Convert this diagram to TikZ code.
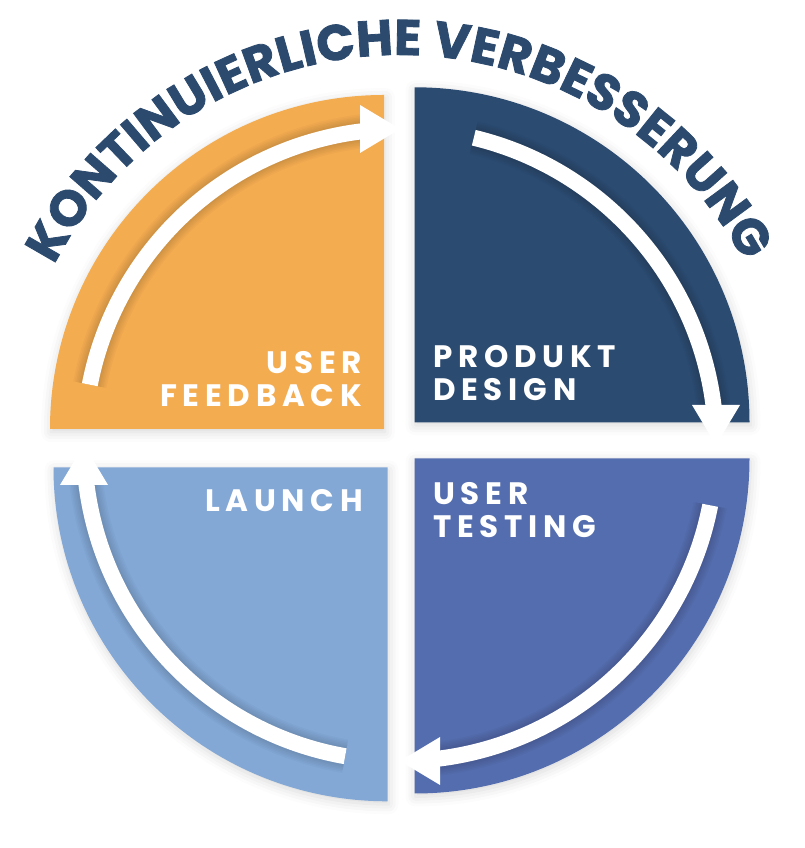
\documentclass[tikz,border=0pt]{standalone}
\usepackage{fontspec}
\setmainfont{Poppins}
\newfontfamily\titlefont{Poppins}[BoldFeatures={FakeBold=1.6}]
\newfontfamily\labfont{Poppins}[LetterSpace=18.5]
\usetikzlibrary{decorations.text,shadows.blur,calc}
\definecolor{cOrange}{HTML}{F4AC50}
\definecolor{cNavy}{HTML}{2C4B71}
\definecolor{cPurple}{HTML}{546DAE}
\definecolor{cLight}{HTML}{83A8D6}
\definecolor{cTitle}{HTML}{2B4A6E}
\tikzset{
  qshadow/.style={blur shadow={shadow xshift=1pt,shadow yshift=-3pt,shadow blur radius=10pt,shadow opacity=16}},
  lab/.style={text=white,inner sep=0pt,font=\labfont\bfseries\fontsize{31}{33}\selectfont},
  shaft/.style={white,line width=16pt},
  titlepath/.style={decorate,decoration={text along path,text align=fit to path,
    text={|\titlefont\bfseries\fontsize{50}{50}\selectfont\color{#1}|KONTINUIERLICHE VERBESSERUNG}}},
}
\newcommand{\cyclearrow}[2]{%
  \foreach \k in {1,...,6}{\draw[black,opacity=0.025,line width=16pt+3pt*\k] ($(c)+(#1:316)$) arc[start angle=#1,end angle=#2+6,radius=316];}
  \draw[shaft] ($(c)+(#1:316)$) arc[start angle=#1,end angle=#2+6,radius=316];
  \fill[white] ($(c)+(#2:316)$) -- ($(c)+(#2:316)+(#2+90:40)+(#2:24)$) -- ($(c)+(#2:316)+(#2+90:40)+(#2:-24)$) -- cycle;
}
\begin{document}
\begin{tikzpicture}[x=1pt,y=1pt]
\useasboundingbox (0,0) rectangle (804,848);
\coordinate (c) at (400,403);
% quadrants
\fill[cOrange,qshadow] (384,419) -- ++(-334,0) arc[start angle=180,end angle=90,radius=334] -- cycle;
\fill[cNavy,qshadow] (414.5,425.7) -- ++(0,335) arc[start angle=90,end angle=0,radius=335] -- cycle;
\fill[cPurple,qshadow] (414.5,389.5) -- ++(335,0) arc[start angle=0,end angle=-90,radius=335] -- cycle;
\fill[cLight,qshadow] (387.5,380.7) -- ++(0,-334) arc[start angle=-90,end angle=-180,radius=334] -- cycle;
% arrows
\cyclearrow{169}{90}
\cyclearrow{76.5}{0}
\cyclearrow{-11}{-90}
\cyclearrow{-100}{-180}
% labels
\node[lab,align=right,anchor=north east] (fb) at (362,497) {USER\\FEEDBACK};
\node[lab,align=left,anchor=north west] (pd) at (433,503) {PRODUKT\\DESIGN};
\node[lab,align=right,anchor=north east] (la) at (363,359) {LAUNCH};
\node[lab,align=left,anchor=north west] (ut) at (433,366) {USER\\TESTING};
% title
\path[titlepath=cTitle] ($(c)+(152.5:390)$) arc[start angle=152.5,end angle=28,radius=390];
\end{tikzpicture}
\end{document}
